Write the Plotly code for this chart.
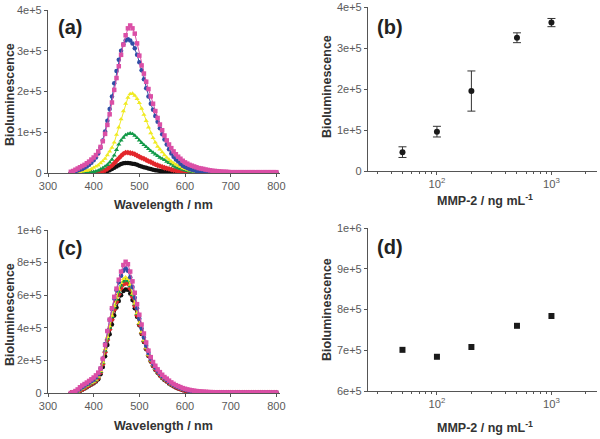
import plotly.graph_objects as go

# ---------------- data ----------------
wavelength = list(range(350, 805, 5))  # nm, 91 points

# panel (a) spectra, units of 1e5
a_black = [0, 0, 0, 0, 0, 0, 0, 0, 0, 0,
           0, 0, 0, 0.01, 0.02, 0.03, 0.05, 0.07, 0.10, 0.13,
           0.16, 0.19, 0.22, 0.24, 0.245, 0.245, 0.24, 0.23, 0.22, 0.20,
           0.18, 0.16, 0.14, 0.13, 0.11, 0.10, 0.08, 0.07, 0.06, 0.05,
           0.04, 0.03, 0.025, 0.02, 0.015, 0.01, 0.01, 0.01, 0.005, 0.005,
           0, 0, 0, 0, 0, 0, 0, 0, 0, 0,
           0, 0, 0, 0, 0, 0, 0, 0, 0, 0,
           0, 0, 0, 0, 0, 0, 0, 0, 0, 0,
           0, 0, 0, 0, 0, 0, 0, 0, 0, 0,
           0]
a_red = [0, 0, 0, 0, 0, 0, 0, 0, 0, 0,
         0, 0, 0.01, 0.02, 0.04, 0.07, 0.10, 0.14, 0.18, 0.24,
         0.30, 0.36, 0.42, 0.47, 0.50, 0.50, 0.49, 0.48, 0.46, 0.43,
         0.40, 0.37, 0.35, 0.32, 0.29, 0.27, 0.24, 0.21, 0.19, 0.17,
         0.15, 0.13, 0.115, 0.10, 0.085, 0.07, 0.06, 0.045, 0.035, 0.03,
         0.025, 0.02, 0.015, 0.01, 0.01, 0.005, 0.005, 0, 0, 0,
         0, 0, 0, 0, 0, 0, 0, 0, 0, 0,
         0, 0, 0, 0, 0, 0, 0, 0, 0, 0,
         0, 0, 0, 0, 0, 0, 0, 0, 0, 0,
         0]
a_green = [0, 0, 0, 0, 0, 0, 0, 0.005, 0.01, 0.02,
           0.03, 0.04, 0.06, 0.09, 0.12, 0.16, 0.20, 0.26, 0.33, 0.43,
           0.57, 0.70, 0.80, 0.87, 0.93, 0.96, 0.975, 0.96, 0.92, 0.86,
           0.80, 0.74, 0.69, 0.64, 0.59, 0.54, 0.50, 0.46, 0.42, 0.38,
           0.35, 0.32, 0.28, 0.25, 0.21, 0.17, 0.14, 0.12, 0.10, 0.08,
           0.065, 0.05, 0.04, 0.035, 0.03, 0.025, 0.02, 0.015, 0.01, 0.01,
           0.01, 0.01, 0.005, 0.005, 0.005, 0.005, 0.005, 0.005, 0.005, 0.005,
           0.005, 0.005, 0.005, 0.005, 0.005, 0.005, 0.005, 0.005, 0.005, 0.005,
           0.005, 0.005, 0.005, 0.005, 0.005, 0.005, 0.005, 0.005, 0.005, 0.005,
           0.005]
a_yellow = [0, 0.01, 0.01, 0.02, 0.03, 0.04, 0.05, 0.06, 0.07, 0.10,
            0.13, 0.16, 0.19, 0.24, 0.29, 0.35, 0.44, 0.53, 0.62, 0.75,
            0.94, 1.12, 1.32, 1.52, 1.70, 1.85, 1.94, 1.95, 1.90, 1.82,
            1.72, 1.58, 1.43, 1.28, 1.12, 0.98, 0.86, 0.75, 0.65, 0.58,
            0.51, 0.44, 0.38, 0.33, 0.28, 0.24, 0.21, 0.18, 0.15, 0.12,
            0.10, 0.08, 0.065, 0.05, 0.04, 0.035, 0.03, 0.025, 0.02, 0.015,
            0.01, 0.01, 0.01, 0.01, 0.01, 0.01, 0.01, 0.01, 0.01, 0.01,
            0.01, 0.01, 0.01, 0.01, 0.01, 0.01, 0.01, 0.01, 0.01, 0.01,
            0.01, 0.01, 0.01, 0.01, 0.01, 0.01, 0.01, 0.01, 0.01, 0.01,
            0.01]
a_blue = [0.01, 0.02, 0.04, 0.06, 0.08, 0.10, 0.13, 0.16, 0.20, 0.25,
          0.31, 0.38, 0.48, 0.62, 0.80, 1.02, 1.28, 1.57, 1.88, 2.20,
          2.50, 2.78, 3.00, 3.16, 3.25, 3.28, 3.25, 3.18, 3.06, 2.90,
          2.72, 2.52, 2.30, 2.08, 1.88, 1.70, 1.55, 1.40, 1.26, 1.10,
          0.95, 0.82, 0.70, 0.58, 0.48, 0.40, 0.33, 0.28, 0.23, 0.18,
          0.15, 0.125, 0.10, 0.08, 0.065, 0.05, 0.04, 0.035, 0.03, 0.025,
          0.02, 0.02, 0.015, 0.015, 0.015, 0.01, 0.01, 0.01, 0.01, 0.01,
          0.01, 0.01, 0.01, 0.01, 0.01, 0.01, 0.01, 0.01, 0.01, 0.01,
          0.01, 0.01, 0.01, 0.01, 0.01, 0.01, 0.01, 0.01, 0.01, 0.01,
          0.01]
a_pink = [0.03, 0.05, 0.08, 0.11, 0.14, 0.17, 0.20, 0.24, 0.28, 0.33,
          0.38, 0.44, 0.53, 0.64, 0.78, 0.96, 1.18, 1.44, 1.73, 2.04,
          2.33, 2.62, 2.90, 3.15, 3.38, 3.55, 3.62, 3.55, 3.42, 3.18,
          2.88, 2.64, 2.44, 2.24, 2.06, 1.88, 1.70, 1.52, 1.35, 1.19,
          1.05, 0.92, 0.80, 0.70, 0.61, 0.53, 0.46, 0.40, 0.35, 0.30,
          0.26, 0.23, 0.20, 0.18, 0.16, 0.14, 0.12, 0.11, 0.10, 0.085,
          0.075, 0.065, 0.055, 0.05, 0.045, 0.04, 0.035, 0.03, 0.03, 0.025,
          0.02, 0.02, 0.02, 0.02, 0.02, 0.02, 0.02, 0.02, 0.02, 0.02,
          0.02, 0.02, 0.02, 0.02, 0.02, 0.02, 0.02, 0.02, 0.02, 0.02,
          0.02]

# panel (c) spectra, units of 1e5
c_black = [0, 0.01, 0.03, 0.07, 0.13, 0.20, 0.28, 0.36, 0.44, 0.52,
           0.60, 0.70, 0.85, 1.15, 1.60, 2.25, 2.95, 3.60, 4.20, 4.75,
           5.25, 5.65, 6.00, 6.25, 6.35, 6.33, 6.10, 5.70, 5.20, 4.68,
           4.15, 3.62, 3.13, 2.68, 2.27, 1.93, 1.65, 1.43, 1.24, 1.07,
           0.92, 0.80, 0.70, 0.59, 0.49, 0.41, 0.34, 0.28, 0.23, 0.18,
           0.14, 0.11, 0.09, 0.07, 0.06, 0.05, 0.04, 0.035, 0.03, 0.025,
           0.02, 0.02, 0.02, 0.02, 0.02, 0.02, 0.02, 0.02, 0.02, 0.02,
           0.02, 0.02, 0.02, 0.02, 0.02, 0.02, 0.02, 0.02, 0.02, 0.02,
           0.02, 0.02, 0.02, 0.02, 0.02, 0.02, 0.02, 0.02, 0.02, 0.02,
           0.02]
c_red = [0, 0.01, 0.04, 0.08, 0.15, 0.23, 0.31, 0.40, 0.48, 0.56,
         0.64, 0.75, 0.92, 1.25, 1.78, 2.50, 3.25, 3.90, 4.50, 5.10,
         5.60, 6.05, 6.42, 6.66, 6.75, 6.70, 6.40, 5.90, 5.35, 4.77,
         4.20, 3.67, 3.18, 2.72, 2.30, 1.96, 1.68, 1.46, 1.27, 1.10,
         0.95, 0.83, 0.73, 0.62, 0.52, 0.44, 0.37, 0.31, 0.25, 0.20,
         0.16, 0.13, 0.11, 0.09, 0.075, 0.065, 0.055, 0.045, 0.04, 0.035,
         0.03, 0.025, 0.025, 0.02, 0.02, 0.02, 0.02, 0.02, 0.02, 0.02,
         0.02, 0.02, 0.02, 0.02, 0.02, 0.02, 0.02, 0.02, 0.02, 0.02,
         0.02, 0.02, 0.02, 0.02, 0.02, 0.02, 0.02, 0.02, 0.02, 0.02,
         0.02]
c_green = [0, 0.02, 0.05, 0.10, 0.17, 0.25, 0.34, 0.43, 0.51, 0.59,
           0.67, 0.78, 0.96, 1.30, 1.85, 2.60, 3.35, 4.00, 4.65, 5.25,
           5.75, 6.20, 6.60, 6.85, 6.95, 6.88, 6.55, 6.02, 5.45, 4.85,
           4.26, 3.72, 3.22, 2.75, 2.33, 1.98, 1.70, 1.48, 1.28, 1.11,
           0.96, 0.84, 0.74, 0.63, 0.53, 0.45, 0.38, 0.32, 0.26, 0.21,
           0.17, 0.14, 0.12, 0.10, 0.08, 0.07, 0.06, 0.05, 0.04, 0.035,
           0.03, 0.025, 0.025, 0.02, 0.02, 0.02, 0.02, 0.02, 0.02, 0.02,
           0.02, 0.02, 0.02, 0.02, 0.02, 0.02, 0.02, 0.02, 0.02, 0.02,
           0.02, 0.02, 0.02, 0.02, 0.02, 0.02, 0.02, 0.02, 0.02, 0.02,
           0.02]
c_yellow = [0, 0.02, 0.05, 0.10, 0.18, 0.27, 0.36, 0.45, 0.54, 0.62,
            0.70, 0.82, 1.00, 1.35, 1.90, 2.70, 3.45, 4.10, 4.75, 5.35,
            5.85, 6.35, 6.75, 7.00, 7.10, 7.00, 6.65, 6.10, 5.50, 4.90,
            4.30, 3.75, 3.25, 2.78, 2.35, 2.00, 1.72, 1.50, 1.30, 1.13,
            0.98, 0.86, 0.76, 0.65, 0.55, 0.47, 0.40, 0.34, 0.28, 0.23,
            0.19, 0.16, 0.13, 0.11, 0.09, 0.075, 0.065, 0.055, 0.045, 0.04,
            0.035, 0.03, 0.03, 0.025, 0.025, 0.025, 0.02, 0.02, 0.02, 0.02,
            0.02, 0.02, 0.02, 0.02, 0.02, 0.02, 0.02, 0.02, 0.02, 0.02,
            0.02, 0.02, 0.02, 0.02, 0.02, 0.02, 0.02, 0.02, 0.02, 0.02,
            0.02]
c_blue = [0, 0.03, 0.08, 0.15, 0.25, 0.35, 0.45, 0.54, 0.63, 0.72,
          0.82, 0.95, 1.15, 1.50, 2.10, 3.00, 3.80, 4.50, 5.15, 5.80,
          6.30, 6.80, 7.20, 7.50, 7.65, 7.50, 7.10, 6.50, 5.85, 5.20,
          4.55, 3.95, 3.40, 2.90, 2.45, 2.08, 1.78, 1.55, 1.35, 1.18,
          1.03, 0.90, 0.80, 0.68, 0.58, 0.49, 0.42, 0.36, 0.30, 0.25,
          0.21, 0.17, 0.14, 0.12, 0.10, 0.08, 0.07, 0.06, 0.05, 0.045,
          0.04, 0.035, 0.03, 0.03, 0.03, 0.025, 0.025, 0.025, 0.02, 0.02,
          0.02, 0.02, 0.02, 0.02, 0.02, 0.02, 0.02, 0.02, 0.02, 0.02,
          0.02, 0.02, 0.02, 0.02, 0.02, 0.02, 0.02, 0.02, 0.02, 0.02,
          0.02]
c_pink = [0, 0.05, 0.12, 0.22, 0.35, 0.46, 0.55, 0.64, 0.74, 0.84,
          0.95, 1.08, 1.25, 1.50, 2.10, 2.95, 3.80, 4.50, 5.20, 5.90,
          6.40, 6.95, 7.45, 7.85, 8.05, 7.90, 7.45, 6.85, 6.15, 5.45,
          4.80, 4.20, 3.65, 3.10, 2.60, 2.20, 1.90, 1.67, 1.45, 1.28,
          1.12, 0.98, 0.88, 0.76, 0.65, 0.56, 0.48, 0.42, 0.36, 0.30,
          0.26, 0.22, 0.19, 0.16, 0.14, 0.12, 0.10, 0.09, 0.08, 0.07,
          0.06, 0.055, 0.05, 0.045, 0.04, 0.04, 0.035, 0.035, 0.03, 0.03,
          0.03, 0.03, 0.03, 0.03, 0.03, 0.03, 0.03, 0.03, 0.03, 0.03,
          0.03, 0.03, 0.03, 0.03, 0.03, 0.03, 0.03, 0.03, 0.03, 0.03,
          0.03]

# panels (b) and (d): MMP-2 concentration vs bioluminescence (units of 1e5)
mmp2_conc = [50, 100, 200, 500, 1000]
b_value = [0.46, 0.96, 1.95, 3.25, 3.62]
b_error = [0.13, 0.13, 0.49, 0.12, 0.10]
d_value = [7.01, 6.84, 7.08, 7.60, 7.84]
d_error = [0.04, 0.04, 0.03, 0.03, 0.03]

# tick labels
ticks_a_vals = [0, 1, 2, 3, 4]
ticks_a_text = ["0", "1e+5", "2e+5", "3e+5", "4e+5"]
ticks_c_vals = [0, 2, 4, 6, 8, 10]
ticks_c_text = ["0", "2e+5", "4e+5", "6e+5", "8e+5", "1e+6"]
ticks_d_vals = [6, 7, 8, 9, 10]
ticks_d_text = ["6e+5", "7e+5", "8e+5", "9e+5", "1e+6"]
wl_ticks = [300, 400, 500, 600, 700, 800]

for s in [a_black, a_red, a_green, a_yellow, a_blue, a_pink,
          c_black, c_red, c_green, c_yellow, c_blue, c_pink]:
    assert len(s) == len(wavelength), len(s)

# ---------------- styling ----------------
FONT = "Liberation Sans, Arial, sans-serif"
series_style = [
    ("#111111", "circle"),
    ("#E3262B", "diamond"),
    ("#139A48", "triangle-up"),
    ("#F0EA22", "triangle-up"),
    ("#2F4EA6", "circle"),
    ("#DB4FA6", "square"),
]

fig = go.Figure()

for series, (col, sym) in zip([a_black, a_red, a_green, a_yellow, a_blue, a_pink], series_style):
    fig.add_trace(go.Scatter(x=wavelength, y=series, mode="lines+markers",
                             line=dict(color=col, width=1),
                             marker=dict(color=col, symbol=sym, size=4.5, line=dict(width=0)),
                             xaxis="x", yaxis="y", showlegend=False))

for series, (col, sym) in zip([c_black, c_red, c_green, c_yellow, c_blue, c_pink], series_style):
    fig.add_trace(go.Scatter(x=wavelength, y=series, mode="lines+markers",
                             line=dict(color=col, width=1),
                             marker=dict(color=col, symbol=sym, size=4.5, line=dict(width=0)),
                             xaxis="x3", yaxis="y3", showlegend=False))

fig.add_trace(go.Scatter(x=mmp2_conc, y=b_value, mode="markers",
                         marker=dict(color="#1a1a1a", symbol="circle", size=6),
                         error_y=dict(type="data", array=b_error, color="#333333",
                                      thickness=1, width=4),
                         xaxis="x2", yaxis="y2", showlegend=False))
fig.add_trace(go.Scatter(x=mmp2_conc, y=d_value, mode="markers",
                         marker=dict(color="#1a1a1a", symbol="square", size=6),
                         error_y=dict(type="data", array=d_error, color="#333333",
                                      thickness=1, width=2),
                         xaxis="x4", yaxis="y4", showlegend=False))

axis_common = dict(showline=True, linecolor="#555555", linewidth=1.2,
                   ticks="outside", ticklen=3, tickcolor="#555555",
                   showgrid=False, zeroline=False, automargin=False)
tick_font = dict(family=FONT, size=11, color="#5a5a5a")
log_tick_font = dict(family=FONT, size=9, color="#5a5a5a")

W, H = 600, 439
def px(x):
    return x / W
def py(y):
    return 1 - y / H

log_minor = dict(ticks="outside", ticklen=2, tickcolor="#555555", showgrid=False)

fig.update_layout(
    width=W, height=H,
    margin=dict(l=0, r=0, t=0, b=0, autoexpand=False),
    paper_bgcolor="white", plot_bgcolor="white",
    xaxis=dict(domain=[px(48), px(280)], anchor="y", range=[300, 808],
               tickvals=wl_ticks, tickfont=tick_font, **axis_common),
    yaxis=dict(domain=[py(173), py(10)], anchor="x", range=[0, 4],
               tickvals=ticks_a_vals, ticktext=ticks_a_text, tickfont=tick_font, **axis_common),
    xaxis3=dict(domain=[px(48), px(280)], anchor="y3", range=[300, 808],
                tickvals=wl_ticks, tickfont=tick_font, **axis_common),
    yaxis3=dict(domain=[py(393), py(230)], anchor="x3", range=[0, 10],
                tickvals=ticks_c_vals, ticktext=ticks_c_text, tickfont=tick_font, **axis_common),
    xaxis2=dict(domain=[px(368), px(597)], anchor="y2", type="log",
                range=[1.39794, 3.39794], dtick=1, exponentformat="power",
                minor=log_minor, tickfont=log_tick_font, **axis_common),
    yaxis2=dict(domain=[py(171), py(7)], anchor="x2", range=[0, 4],
                tickvals=ticks_a_vals, ticktext=ticks_a_text, tickfont=tick_font, **axis_common),
    xaxis4=dict(domain=[px(368), px(597)], anchor="y4", type="log",
                range=[1.39794, 3.39794], dtick=1, exponentformat="power",
                minor=log_minor, tickfont=log_tick_font, **axis_common),
    yaxis4=dict(domain=[py(391), py(228)], anchor="x4", range=[6, 10],
                tickvals=ticks_d_vals, ticktext=ticks_d_text, tickfont=tick_font, **axis_common),
)

title_font = dict(family=FONT, size=12.5, color="#333333")
label_font = dict(family=FONT, size=20, color="#222222")
annos = [
    # panel labels
    ("<b>(a)</b>", 70, 27, 0, label_font),
    ("<b>(b)</b>", 390, 27, 0, label_font),
    ("<b>(c)</b>", 70, 248, 0, label_font),
    ("<b>(d)</b>", 390, 247, 0, label_font),
    # axis titles
    ("<b>Wavelength / nm</b>", 163, 205, 0, title_font),
    ("<b>Wavelength / nm</b>", 163, 426, 0, title_font),
    ("<b>MMP-2 / ng mL<sup>-1</sup></b>", 485, 200, 0, title_font),
    ("<b>MMP-2 / ng mL<sup>-1</sup></b>", 485, 427, 0, title_font),
    ("<b>Bioluminescence</b>", 10, 95, -90, title_font),
    ("<b>Bioluminescence</b>", 327, 87, -90, title_font),
    ("<b>Bioluminescence</b>", 10, 315, -90, title_font),
    ("<b>Bioluminescence</b>", 327, 310, -90, title_font),
]
for text, x, y, ang, f in annos:
    fig.add_annotation(text=text, x=px(x), y=py(y), xref="paper", yref="paper",
                       showarrow=False, textangle=ang, font=f,
                       xanchor="center", yanchor="middle")

# remove the page's default body margin so the figure sits at the window's corner
fig.write_html("out.html",
               config={"displayModeBar": False},
               post_script="document.body.style.margin='0';document.body.style.overflow='hidden';")
